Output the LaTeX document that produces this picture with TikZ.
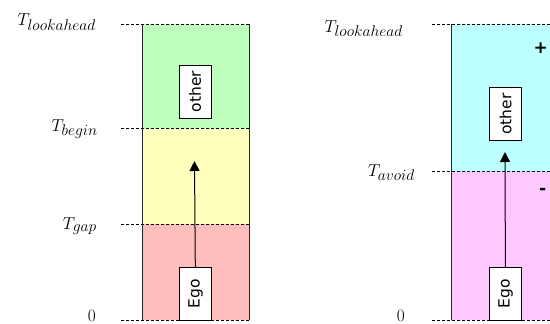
\documentclass[tikz,border=0pt]{standalone}
\usepackage{fontspec}
\newfontfamily\boxfont{DejaVu Sans}
\usetikzlibrary{arrows.meta}
\DeclareMathSizes{17.28}{17.28}{14.4}{10}
% slightly enlarged subscript text
\newcommand{\tsub}[1]{\scalebox{1.08}{$\scriptstyle #1$}}
\definecolor{zoneGreen}{RGB}{190,255,190}
\definecolor{zoneYellow}{RGB}{255,255,190}
\definecolor{zoneRed}{RGB}{255,190,190}
\definecolor{zoneCyan}{RGB}{190,255,255}
\definecolor{zoneMagenta}{RGB}{255,200,255}
\tikzset{
  level/.style={line width=0.8pt, dash pattern=on 3pt off 2pt},
  edge/.style={line width=0.8pt, draw=black!85},
  vehicle/.style={draw, fill=white, line width=0.8pt, rotate=90,
    minimum width=53pt, minimum height=32pt, inner sep=0pt,
    font=\boxfont\fontsize{15.5}{16}\selectfont},
  motion/.style={line width=1pt, draw=black, -{Triangle[length=10pt,width=10pt]}},
  timelabel/.style={anchor=base east, inner sep=0pt, font=\fontsize{17.28}{20}\selectfont},
  sign/.style={inner sep=0pt, font=\boxfont\bfseries\fontsize{17}{18}\selectfont}
}
\begin{document}
\begin{tikzpicture}[x=1pt,y=-1pt]
\useasboundingbox (0,0) rectangle (550,324);
\clip (0,0) rectangle (550,324);

% ---- left panel: three time zones ----
\fill[zoneGreen]  (142.7,24.3)  rectangle (249,128.7);
\fill[zoneYellow] (142.7,128.7) rectangle (249,224.3);
\fill[zoneRed]    (142.7,224.3) rectangle (249,320.3);
\draw[level] (121,24.3)  -- (249,24.3);
\draw[level] (121,128.7) -- (249,128.7);
\draw[level] (121,224.3) -- (249,224.3);
\draw[level] (121,320.3) -- (249,320.3);
\draw[edge] (142.7,24.3) -- (142.7,320.3);
\draw[edge] (249,24.3) -- (249,320.3);

\node[timelabel] (lookL) at (96,26)  {$T_{\tsub{lookahead}}$};
\node[timelabel] (beginL) at (98,131) {$T_{\tsub{begin}}$};
\node[timelabel] (gapL)  at (97,229) {$T_{\tsub{gap}}$};
\node[timelabel] (zeroL) at (96,321.5) {$0$};

\node[vehicle] (otherL) at (195,91.5) {other};
\node[vehicle] (egoL) at (195.5,294) {Ego};
\coordinate (tipL) at (194.5,161);
\draw[motion] (egoL) -- (tipL);

% ---- right panel: two time zones ----
\fill[zoneCyan]    (451.7,24)    rectangle (550,171.3);
\fill[zoneMagenta] (451.7,171.3) rectangle (550,320.3);
\draw[level] (432.3,24)    -- (550,24);
\draw[level] (432.3,171.3) -- (550,171.3);
\draw[level] (432.3,320.3) -- (550,320.3);
\draw[edge] (451.7,24) -- (451.7,320.3);

\node[timelabel] (lookR) at (403,32)  {$T_{\tsub{lookahead}}$};
\node[timelabel] (avoidR) at (415,176) {$T_{\tsub{avoid}}$};
\node[timelabel] (zeroR) at (405,321.5) {$0$};

\node[sign] (plusR) at (540.7,48) {+};
\node[sign] (minusR) at (542.7,191) {-};

\node[vehicle] (otherR) at (505.5,114) {other};
\node[vehicle] (egoR) at (505.5,294) {Ego};
\coordinate (tipR) at (505,152);
\draw[motion] (egoR) -- (tipR);
\end{tikzpicture}
\end{document}
